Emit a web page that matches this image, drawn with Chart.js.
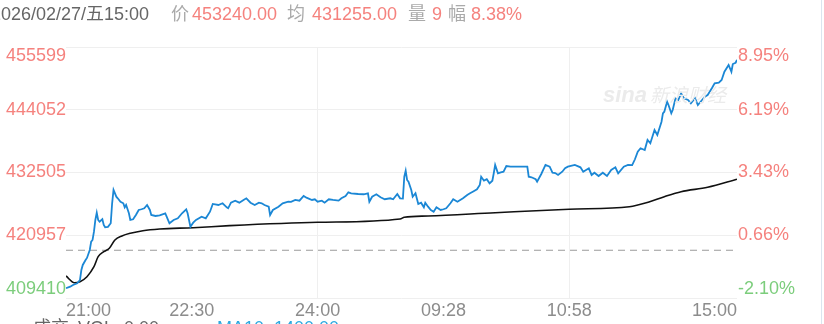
<!DOCTYPE html>
<html>
<head>
<meta charset="utf-8">
<script src="https://cdn.jsdelivr.net/npm/chart.js@4"></script>
<style>
body { margin: 0; width: 824px; height: 324px; overflow: hidden; background: #fff; position: relative; font-family: Arial, "Liberation Sans", "Noto Sans CJK SC", sans-serif; }
#myChart { position: absolute; left: 0; top: 0; }
.t { position: absolute; white-space: nowrap; font-size: 18px; line-height: 18px; }
.gray { color: #666; }
.lbl { color: #aaa; }
.red { color: #f5827e; }
.mark { position: absolute; white-space: nowrap; color: #ebebeb; font-style: italic; }
#edge { position: absolute; left: 821px; top: 0; width: 1px; height: 324px; background: #dbe5ef; }
</style>
</head>
<body>
<canvas id="myChart" width="824" height="324"></canvas>

<!-- header line, first char is cut off like in the screenshot -->
<div class="t gray" style="left:-9px;top:5px">2026/02/27/五15:00</div>
<div class="t lbl" style="left:171px;top:5px">价</div>
<div class="t red" style="left:192px;top:5px">453240.00</div>
<div class="t lbl" style="left:287px;top:5px">均</div>
<div class="t red" style="left:312px;top:5px">431255.00</div>
<div class="t lbl" style="left:408px;top:5px">量</div>
<div class="t red" style="left:432px;top:5px">9</div>
<div class="t lbl" style="left:448px;top:5px">幅</div>
<div class="t red" style="left:471px;top:5px">8.38%</div>

<!-- watermark -->
<div class="mark" style="left:603px;top:82px;font-size:22px;font-weight:bold">sina</div>
<div class="mark" style="left:650px;top:80px;font-size:19px">新浪财经</div>

<!-- volume row, cut by the bottom edge -->
<div class="t gray" style="left:33px;top:319px">成交</div>
<div class="t gray" style="left:78px;top:319px">VOL: 0.00</div>
<div class="t" style="left:217px;top:319px;color:#2aa8e0">MA10: 1400.00</div>

<div id="edge"></div>

<script>
// price axis ticks and labels
const priceTicks = [409410, 420957, 432505, 444052, 455599]
const priceLabels = ['409410', '420957', '432505', '444052', '455599']
const pctLabels = ['-2.10%', '0.66%', '3.43%', '6.19%', '8.95%']
const prevClose = 418195

// time axis (minutes since 21:00 on the trading clock)
const timeTicks = [0, 90, 180, 270, 360, 480]
const timeLabels = ['21:00', '22:30', '24:00', '09:28', '10:58', '15:00']

// price line
const priceTime = [
    0, 3, 5, 8, 10, 11, 12, 14, 15, 17, 18, 19, 20, 21, 22, 23, 24, 26, 27, 28,
    30, 32, 33, 34, 36, 37, 39, 41, 42, 43, 45, 46, 48, 50, 52, 54, 56, 58, 60, 61,
    64, 67, 71, 72, 74, 77, 80, 83, 86, 87, 89, 91, 93, 97, 100, 103, 105, 109, 112, 115,
    116, 118, 121, 124, 127, 129, 132, 135, 138, 140, 142, 145, 146, 148, 152, 155, 159, 161, 164, 167,
    170, 172, 176, 178, 180, 183, 185, 188, 191, 195, 197, 200, 202, 204, 209, 213, 216, 217, 219, 222,
    225, 228, 232, 234, 237, 239, 241, 242, 243, 244, 245, 247, 248, 250, 252, 254, 256, 257, 259, 261,
    263, 265, 268, 270, 272, 275, 277, 280, 282, 284, 287, 289, 291, 294, 296, 297, 299, 301, 303, 305,
    306, 307, 309, 311, 313, 315, 318, 324, 330, 331, 333, 336, 337, 340, 343, 346, 348, 350, 352, 355,
    357, 359, 364, 368, 370, 374, 376, 378, 381, 384, 387, 390, 393, 395, 399, 402, 405, 407, 409, 411,
    414, 416, 418, 421, 423, 426, 427, 428, 430, 431, 433, 434, 436, 438, 440, 442, 445, 447, 450, 452,
    455, 457, 459, 462, 464, 467, 469, 471, 474, 476, 477, 479, 480
]
const priceValue = [
    411200, 411490, 411810, 412120, 412730, 414570, 415490, 416410, 416780, 418250, 419770, 420090, 421610, 423770, 425110, 423770, 423450, 423900, 422850, 422420,
    422500, 423160, 426840, 429290, 428050, 427760, 427130, 426840, 426100, 426530, 425000, 423770, 423900, 424690, 425610, 425740, 425920, 426530, 425610, 424690,
    424500, 424630, 425000, 424370, 423160, 423770, 424080, 425000, 425740, 425000, 422530, 423270, 423770, 424370, 424080, 425290, 426710, 426530, 426840, 426100,
    425920, 426950, 427320, 426950, 427450, 427760, 426950, 426530, 426950, 426840, 426530, 426210, 424690, 425610, 426210, 426840, 427130, 427100, 427450, 427320,
    428180, 427870, 427450, 427580, 427130, 427320, 426950, 427580, 427450, 427320, 427760, 428180, 428860, 428680, 428550, 428500, 428680, 427130, 428050, 428500,
    427940, 427580, 427760, 427580, 428550, 427760, 427700, 431730, 432840, 431130, 430810, 429290, 428050, 428680, 426710, 426950, 426100, 426950, 426210, 425610,
    425290, 426100, 425610, 425740, 425920, 426840, 427580, 427130, 427450, 427760, 428370, 428680, 428970, 429420, 430210, 431730, 431000, 431260, 430520, 431000,
    432360, 433890, 432360, 432540, 432650, 433700, 433570, 433570, 433570, 431730, 431620, 431260, 430810, 432230, 433890, 433570, 432470, 432400, 432050, 432650,
    433280, 433570, 433890, 433460, 432650, 433280, 432050, 432470, 431860, 432470, 431860, 432970, 433460, 432360, 433570, 433890, 433850, 434940, 436330, 436960,
    436650, 438490, 437880, 440330, 439410, 441850, 443400, 443690, 445530, 444930, 443400, 444010, 446160, 445850, 447080, 446160, 445850, 445240, 446160, 444930,
    445850, 446450, 446770, 448000, 448920, 449030, 449530, 451050, 452290, 451050, 452470, 452700, 453240
]

// average price line
const avgTime = [0, 6, 10, 15, 20, 23, 27, 31, 35, 40, 46, 55, 67, 91, 117, 180, 239, 242, 259, 307, 360, 403, 417, 428, 440, 459, 480]
const avgValue = [413460, 412230, 412410, 413330, 415170, 417010, 417930, 418560, 420090, 420820, 421320, 421800, 422110, 422350, 422720, 423340, 423950, 424260, 424500, 425110, 425740, 426210, 427080, 428050, 428970, 429780, 431255]

const red = '#f5827e'
const green = '#7ccd7c'
const gridColor = '#efefef'

Chart.defaults.font.family = 'Arial, "Liberation Sans", sans-serif'

//build chart
function configGraphAndRender() {
    const grafica = document.querySelector('#myChart')

    const pricePoints = priceTime.map((t, i) => ({ x: t, y: priceValue[i] }))
    const avgPoints = avgTime.map((t, i) => ({ x: t, y: avgValue[i] }))
    const prevPoints = [{ x: timeTicks[0], y: prevClose }, { x: timeTicks[timeTicks.length - 1], y: prevClose }]

    const data = {
        datasets: [{
            label: '价',
            data: pricePoints,
            borderColor: '#1b87d5',
            borderWidth: 1.8,
            pointRadius: 0,
            tension: 0
        }, {
            label: '均',
            data: avgPoints,
            borderColor: '#111',
            borderWidth: 1.6,
            pointRadius: 0,
            cubicInterpolationMode: 'monotone'
        }, {
            label: 'prev',
            data: prevPoints,
            borderColor: '#9a9a9a',
            borderWidth: 1,
            borderDash: [7, 5],
            pointRadius: 0
        }]
    }

    const config = {
        type: 'line',
        data: data,
        options: {
            responsive: false,
            animation: false,
            devicePixelRatio: 1,
            layout: { padding: { top: 47, left: 0, right: 0, bottom: 0 } },
            plugins: { legend: { display: false }, tooltip: { enabled: false } },
            scales: {
                x: {
                    type: 'linear',
                    min: timeTicks[0],
                    max: timeTicks[timeTicks.length - 1],
                    afterBuildTicks: (s) => { s.ticks = timeTicks.map((v) => ({ value: v })) },
                    afterFit: (s) => { s.height = 26 },
                    border: { display: false },
                    grid: {
                        drawTicks: false,
                        color: (c) => (c.index === 2 || c.index === 4) ? gridColor : 'rgba(0,0,0,0)'
                    },
                    ticks: {
                        align: 'inner',
                        autoSkip: false,
                        maxRotation: 0,
                        padding: 2,
                        color: '#8c8c8c',
                        font: { size: 18 },
                        callback: (v, i) => timeLabels[i]
                    }
                },
                y: {
                    position: 'left',
                    min: priceTicks[0],
                    max: priceTicks[priceTicks.length - 1],
                    afterBuildTicks: (s) => { s.ticks = priceTicks.map((v) => ({ value: v })) },
                    afterFit: (s) => { s.width = 66 },
                    border: { display: false },
                    grid: { drawTicks: false, color: gridColor },
                    ticks: {
                        padding: 0,
                        font: { size: 18, lineHeight: 1.0 },
                        color: (c) => c.index === 0 ? green : red,
                        callback: (v, i) => i === priceTicks.length - 1 ? ['', priceLabels[i]] : i === 0 ? [priceLabels[i], ''] : priceLabels[i]
                    }
                },
                y2: {
                    position: 'right',
                    min: priceTicks[0],
                    max: priceTicks[priceTicks.length - 1],
                    afterBuildTicks: (s) => { s.ticks = priceTicks.map((v) => ({ value: v })) },
                    afterFit: (s) => { s.width = 87 },
                    border: { display: false },
                    grid: { display: false, drawTicks: false },
                    ticks: {
                        padding: 1,
                        font: { size: 18, lineHeight: 1.0 },
                        color: (c) => c.index === 0 ? green : red,
                        callback: (v, i) => i === pctLabels.length - 1 ? ['', pctLabels[i]] : i === 0 ? [pctLabels[i], ''] : pctLabels[i]
                    }
                }
            }
        }
    }

    const graphicmap = new Chart(grafica, config)
    graphicmap.render()
}

configGraphAndRender()
</script>
</body>
</html>
